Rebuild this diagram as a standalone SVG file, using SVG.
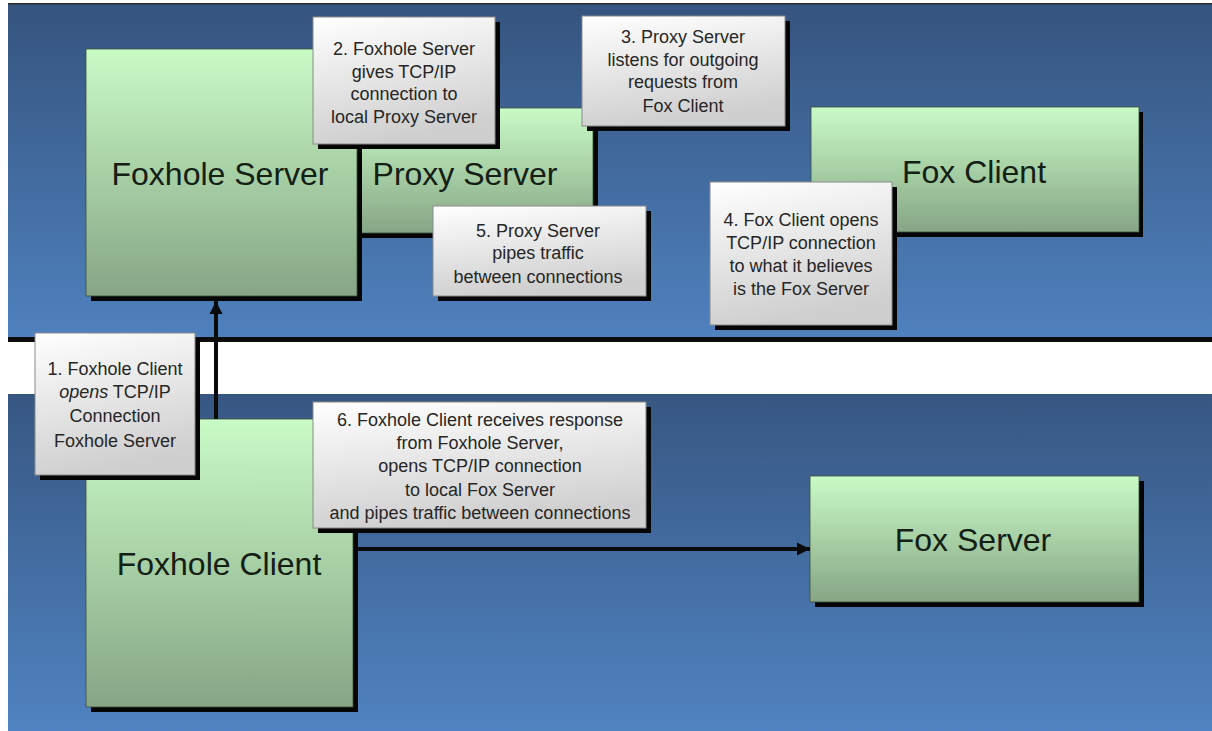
<svg xmlns="http://www.w3.org/2000/svg" width="1212" height="731" viewBox="0 0 1212 731">
  <defs>
    <linearGradient id="panelTop" x1="0" y1="0" x2="0" y2="1">
      <stop offset="0" stop-color="#35547e"/>
      <stop offset="1" stop-color="#4f81be"/>
    </linearGradient>
    <linearGradient id="panelBot" x1="0" y1="0" x2="0" y2="1">
      <stop offset="0" stop-color="#375782"/>
      <stop offset="1" stop-color="#5083c1"/>
    </linearGradient>
    <linearGradient id="green" x1="0" y1="0" x2="0" y2="1">
      <stop offset="0" stop-color="#c9fbc6"/>
      <stop offset="1" stop-color="#86a585"/>
    </linearGradient>
    <linearGradient id="callout" x1="0" y1="0" x2="0.25" y2="1">
      <stop offset="0" stop-color="#ffffff"/>
      <stop offset="1" stop-color="#cfcfcf"/>
    </linearGradient>
    <marker id="arrow" markerUnits="userSpaceOnUse" markerWidth="14" markerHeight="14" viewBox="0 0 14 14" refX="13" refY="7" orient="auto">
      <path d="M0,0.5 L13,7 L0,13.5 Z" fill="#0a0a0a"/>
    </marker>
  </defs>
  <style>
    .shadow { fill: #050505; }
    .node { fill: url(#green); stroke: #3d4d3d; stroke-width: 0.8; }
    .box { fill: url(#callout); stroke: #8a8a8a; stroke-width: 1; }
    .big { font-family: "Liberation Sans", Arial, sans-serif; font-size: 32px; fill: #142014; text-anchor: middle; }
    .small { font-family: "Liberation Sans", Arial, sans-serif; font-size: 18px; fill: #262626; text-anchor: middle; }
    .conn { stroke: #0a0a0a; stroke-width: 4; fill: none; }
  </style>

  <rect x="0" y="0" width="1212" height="731" fill="#ffffff"/>

  <!-- panels -->
  <g id="panel-top">
    <rect x="8" y="4" width="1204" height="333" fill="url(#panelTop)"/>
    <rect x="8" y="3" width="1204" height="1.5" fill="#2a2a2a"/>
    <rect x="8" y="337" width="1204" height="5" fill="#0d0d0d"/>
  </g>
  <g id="panel-bottom">
    <rect x="8" y="394" width="1204" height="337" fill="url(#panelBot)"/>
  </g>

  <!-- top nodes -->
  <g id="proxy-server">
    <rect class="shadow" x="362" y="113" width="236" height="125"/>
    <rect class="node" x="357" y="108" width="236" height="125"/>
    <text class="big" x="465" y="185">Proxy Server</text>
  </g>
  <g id="foxhole-server">
    <rect class="shadow" x="91" y="54" width="271" height="247"/>
    <rect class="node" x="86" y="49" width="271" height="247"/>
    <text class="big" x="220" y="185">Foxhole Server</text>
  </g>
  <g id="fox-client">
    <rect class="shadow" x="815" y="112" width="328" height="125"/>
    <rect class="node" x="811" y="107" width="328" height="125"/>
    <text class="big" x="974" y="183">Fox Client</text>
  </g>

  <g id="note-2">
    <rect class="shadow" x="318" y="22" width="182" height="127"/>
    <rect class="box" x="313" y="17" width="182" height="127"/>
    <text class="small" x="404"><tspan x="404" y="55">2. Foxhole Server</tspan><tspan x="404" y="78">gives TCP/IP</tspan><tspan x="404" y="100">connection to</tspan><tspan x="404" y="123">local Proxy Server</tspan></text>
  </g>
  <g id="note-3">
    <rect class="shadow" x="587" y="21" width="203" height="110"/>
    <rect class="box" x="582" y="16" width="203" height="110"/>
    <text class="small" x="683"><tspan x="683" y="43">3. Proxy Server</tspan><tspan x="683" y="66">listens for outgoing</tspan><tspan x="683" y="88">requests from</tspan><tspan x="683" y="112">Fox Client</tspan></text>
  </g>
  <g id="note-5">
    <rect class="shadow" x="438" y="211" width="213" height="90"/>
    <rect class="box" x="433" y="206" width="213" height="90"/>
    <text class="small" x="538"><tspan x="538" y="237">5. Proxy Server</tspan><tspan x="538" y="259">pipes traffic</tspan><tspan x="538" y="283">between connections</tspan></text>
  </g>
  <g id="note-4">
    <rect class="shadow" x="715" y="187" width="182" height="143"/>
    <rect class="box" x="710" y="182" width="182" height="143"/>
    <text class="small" x="801"><tspan x="801" y="226">4. Fox Client opens</tspan><tspan x="801" y="249">TCP/IP connection</tspan><tspan x="801" y="272">to what it believes</tspan><tspan x="801" y="295">is the Fox Server</tspan></text>
  </g>

  <!-- bottom nodes -->
  <g id="foxhole-client">
    <rect class="shadow" x="91" y="424" width="267" height="288"/>
    <rect class="node" x="86" y="419" width="267" height="288"/>
    <text class="big" x="219" y="575">Foxhole Client</text>
  </g>
  <g id="fox-server">
    <rect class="shadow" x="815" y="481" width="329" height="126"/>
    <rect class="node" x="810" y="476" width="329" height="126"/>
    <text class="big" x="973" y="551">Fox Server</text>
  </g>

  <g id="note-1">
    <rect class="shadow" x="40" y="338" width="160" height="142"/>
    <rect class="box" x="35" y="333" width="160" height="142"/>
    <text class="small" x="115"><tspan x="115" y="375">1. Foxhole Client</tspan><tspan x="115" y="398"><tspan font-style="italic">opens</tspan> TCP/IP</tspan><tspan x="115" y="422">Connection</tspan><tspan x="115" y="447">Foxhole Server</tspan></text>
  </g>
  <g id="note-6">
    <rect class="shadow" x="318" y="407" width="333" height="126"/>
    <rect class="box" x="313" y="402" width="333" height="126"/>
    <text class="small" x="480"><tspan x="480" y="426">6. Foxhole Client receives response</tspan><tspan x="480" y="449">from Foxhole Server,</tspan><tspan x="480" y="472">opens TCP/IP connection</tspan><tspan x="480" y="496">to local Fox Server</tspan><tspan x="480" y="519">and pipes traffic between connections</tspan></text>
  </g>

  <!-- connectors -->
  <g id="connectors">
    <line class="conn" x1="216" y1="419" x2="216" y2="301" marker-end="url(#arrow)"/>
    <line class="conn" x1="358" y1="549" x2="810" y2="549" marker-end="url(#arrow)"/>
  </g>
</svg>
